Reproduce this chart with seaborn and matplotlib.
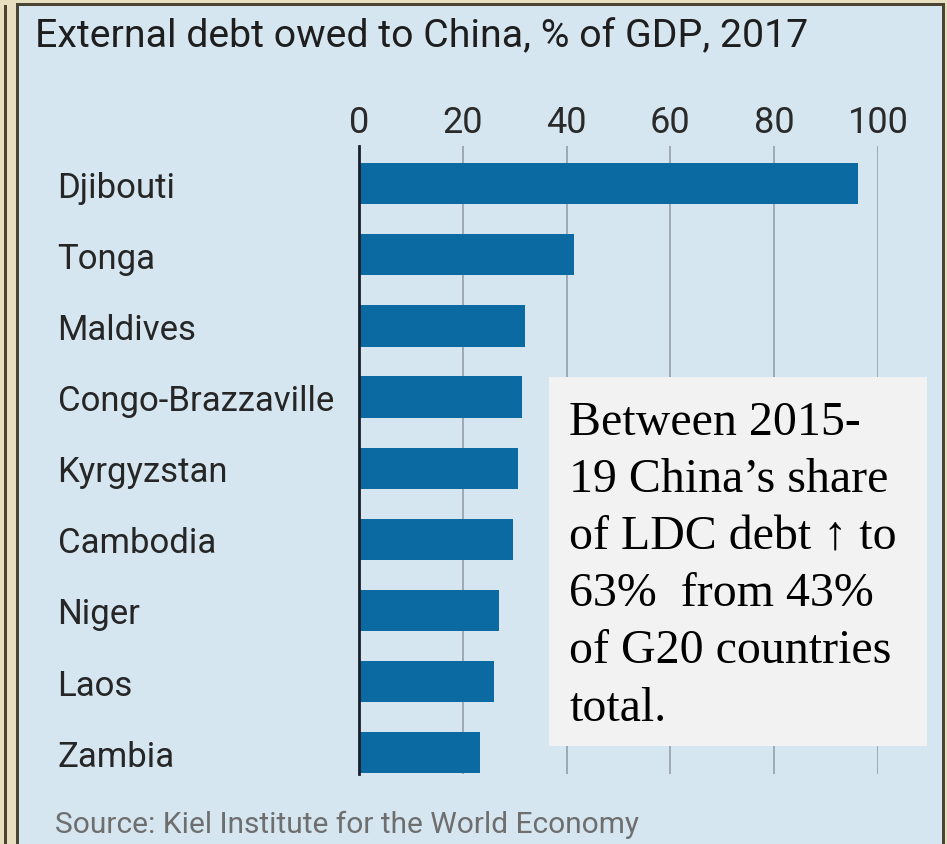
import matplotlib
matplotlib.use("Agg")
import matplotlib.pyplot as plt
from matplotlib.patches import Rectangle
import seaborn as sns
import pandas as pd

# Data
countries = ["Djibouti", "Tonga", "Maldives", "Congo-Brazzaville", "Kyrgyzstan",
             "Cambodia", "Niger", "Laos", "Zambia"]
debt_pct_gdp = [96.1, 41.4, 32.0, 31.5, 30.6, 29.6, 27.0, 26.1, 23.3]
x_ticks = [0, 20, 40, 60, 80, 100]

title = "External debt owed to China, % of GDP, 2017"
source = "Source: Kiel Institute for the World Economy"
note_lines = ["Between 2015-", "19 China\u2019s share", "of LDC debt \u2191 to",
              "63%  from 43%", "of G20 countries", "total."]

W, H = 947, 845
BAR = "#0b6aa1"
PANEL = "#d6e6f0"
BEIGE = "#e8dfc1"
FRAME = "#4a4432"
SANS = ["Roboto", "DejaVu Sans"]
SERIF = ["Liberation Serif", "DejaVu Serif"]

sns.set_theme(style="white")
plt.rcParams["font.family"] = SANS

fig = plt.figure(figsize=(W / 100, H / 100), dpi=100)
fig.patch.set_facecolor(BEIGE)


def px_rect(x0, y0, x1, y1, z, **kw):
    """Rectangle given in pixel coordinates measured from the top-left."""
    r = Rectangle((x0 / W, 1 - y1 / H), (x1 - x0) / W, (y1 - y0) / H,
                  transform=fig.transFigure, figure=fig, zorder=z, **kw)
    fig.patches.append(r)
    return r


# Frame lines and light-blue panel (behind the axes)
px_rect(3.5, 6, 6.5, H, -3, facecolor=FRAME, edgecolor="none")
px_rect(16, 4, 945, H, -3, facecolor=FRAME, edgecolor="none")
px_rect(18.5, 6.5, 942, H, -2, facecolor=PANEL, edgecolor="none")

# Plot area
ax_l, ax_r, ax_t, ax_b = 359, 878, 147, 775
ax = fig.add_axes([ax_l / W, 1 - ax_b / H, (ax_r - ax_l) / W, (ax_b - ax_t) / H])
ax.set_zorder(1)
ax.set_facecolor("none")

df = pd.DataFrame({"country": countries, "value": debt_pct_gdp})
sns.barplot(data=df, x="value", y="country", orient="h", color=BAR, saturation=1,
            width=0.58, linewidth=0, ax=ax, zorder=3)

ax.set_xlim(0, 100)
ax.set_ylim(len(countries) - 1 + 0.30, -0.53)
ax.set_xticks(x_ticks)
ax.set_xticklabels([str(t) for t in x_ticks])
ax.xaxis.tick_top()
ax.tick_params(axis="x", length=0, pad=4.5, labelsize=26, labelcolor="#2a2a2a")
ax.tick_params(axis="y", length=0, pad=217, labelsize=25, labelcolor="#262626")
for lbl in ax.get_yticklabels():
    lbl.set_horizontalalignment("left")
ax.set_xlabel("")
ax.set_ylabel("")

for t in x_ticks[1:]:
    ax.axvline(t, color="#9aa4ad", linewidth=1.3, zorder=1)
for side in ["top", "right", "bottom"]:
    ax.spines[side].set_visible(False)
ax.spines["left"].set_color("#1b1f2a")
ax.spines["left"].set_linewidth(2.0)
ax.spines["left"].set_zorder(4)

# Title and source
fig.text(35 / W, 1 - 47 / H, title, fontsize=28.3, color="#1e1e1e",
         ha="left", va="baseline")
fig.text(55 / W, 1 - 833 / H, source, fontsize=21.5, color="#6e6e6e",
         ha="left", va="baseline")

# Annotation box (above the axes)
px_rect(549, 378, 927, 747, 5, facecolor="#f2f2f2", edgecolor="none")
baselines = [435, 491.7, 548.3, 606, 663.5, 721]
for line, yb in zip(note_lines, baselines):
    t = fig.text(569 / W, 1 - yb / H, line, fontsize=34.5, color="black",
                 ha="left", va="baseline", family=SERIF)
    t.set_zorder(6)

fig.savefig("out.png", dpi=100, facecolor=fig.get_facecolor())
